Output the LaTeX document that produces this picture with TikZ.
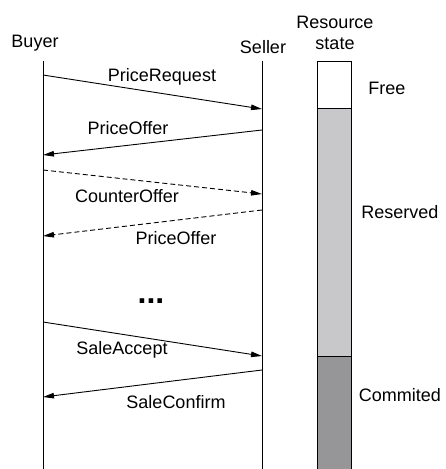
\documentclass[tikz,border=0pt]{standalone}
\usepackage{fontspec}
\setmainfont{Liberation Sans}
\usetikzlibrary{arrows.meta}
\definecolor{reservedgray}{RGB}{200,200,202}
\definecolor{commitgray}{RGB}{150,150,152}
\tikzset{
  lbl/.style={font=\fontsize{18}{20}\selectfont, inner sep=0pt},
  msg/.style={line width=0.9pt, -{Triangle[length=11pt,width=5.5pt]}},
  msgdash/.style={msg, dash pattern=on 5pt off 3pt},
  life/.style={line width=1pt}
}
\begin{document}
\begin{tikzpicture}[x=1pt,y=-1pt]
\useasboundingbox (0,0) rectangle (445,469);
% actors
\draw (35,43) node[lbl] (buyer) {Buyer};
\draw (263,47) node[lbl] (seller) {Seller};
\draw (335,22) node[lbl] (res) {Resource};
\draw (335,44) node[lbl] (state) {state};
% lifelines
\coordinate (b0) at (43,61);
\coordinate (b1) at (43,469);
\coordinate (s0) at (262,61);
\coordinate (s1) at (262,469);
\draw[life] (b0) -- (b1);
\draw[life] (s0) -- (s1);
% resource bar
\fill[reservedgray] (317,108) rectangle (351,356);
\fill[commitgray] (317,356) rectangle (351,469);
\draw[life] (317,469) -- (317,61) -- (351,61) -- (351,469);
\draw[life] (317,108) -- (351,108);
\draw[life] (317,356) -- (351,356);
\draw (387,88) node[lbl] (free) {Free};
\draw (400,212) node[lbl] (reserved) {Reserved};
\draw (400,395) node[lbl] (commited) {Commited};
% messages
\coordinate (m1a) at (43,75);   \coordinate (m1b) at (262,109);
\coordinate (m2a) at (262,130); \coordinate (m2b) at (43,155);
\coordinate (m3a) at (43,170);  \coordinate (m3b) at (262,194);
\coordinate (m4a) at (262,210); \coordinate (m4b) at (43,236);
\coordinate (m5a) at (43,322);  \coordinate (m5b) at (262,356);
\coordinate (m6a) at (262,370); \coordinate (m6b) at (43,397);
\draw[msg] (m1a) -- (m1b);
\draw[msg] (m2a) -- (m2b);
\draw[msgdash] (m3a) -- (m3b);
\draw[msgdash] (m4a) -- (m4b);
\draw[msg] (m5a) -- (m5b);
\draw[msg] (m6a) -- (m6b);
\draw (162,77) node[lbl] (preq) {PriceRequest};
\draw (128,128) node[lbl] (poffer) {PriceOffer};
\draw (127,196) node[lbl] (coffer) {CounterOffer};
\draw (176,238) node[lbl] (poffer2) {PriceOffer};
\draw (151,301) node[lbl, font=\fontsize{32}{34}\selectfont\bfseries] (dots) {...};
\draw (122,350) node[lbl] (saccept) {SaleAccept};
\draw (176,402) node[lbl] (sconfirm) {SaleConfirm};
\end{tikzpicture}
\end{document}
